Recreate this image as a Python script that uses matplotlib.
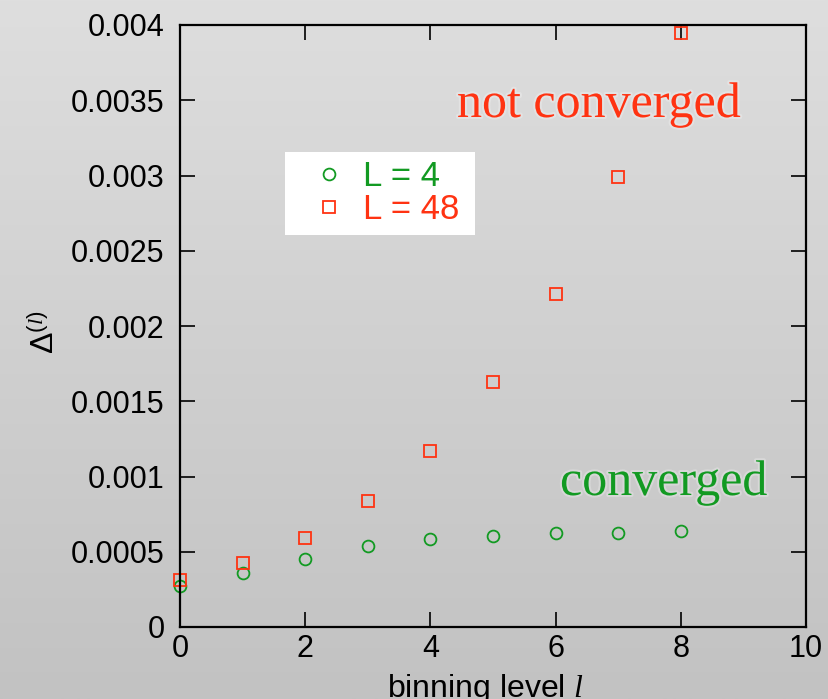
import numpy as np
import matplotlib
matplotlib.use("Agg")
import matplotlib.pyplot as plt
import matplotlib.patheffects as pe
from matplotlib.patches import Rectangle

# binning levels and error estimates
levels = [0, 1, 2, 3, 4, 5, 6, 7, 8]
delta_L4 = [0.000272, 0.000359, 0.000452, 0.000538, 0.000585, 0.000605, 0.000625, 0.000625, 0.000638]
delta_L48 = [0.00031, 0.000425, 0.00059, 0.000837, 0.00117, 0.00163, 0.00221, 0.00299, 0.00395]
y_ticks = [0, 0.0005, 0.001, 0.0015, 0.002, 0.0025, 0.003, 0.0035, 0.004]
y_tick_labels = ["0", "0.0005", "0.001", "0.0015", "0.002", "0.0025", "0.003", "0.0035", "0.004"]
x_ticks = [0, 2, 4, 6, 8, 10]

GREEN = "#129a22"
RED = "#ff3312"

plt.rcParams["font.family"] = ["Liberation Sans", "DejaVu Sans"]
plt.rcParams["mathtext.fontset"] = "custom"
plt.rcParams["mathtext.rm"] = "Liberation Sans"
plt.rcParams["mathtext.it"] = "Liberation Serif:italic"

fig = plt.figure(figsize=(8.29, 6.99), dpi=100)

# grey slide background, lighter at the top
bg = fig.add_axes([0, 0, 1, 1], zorder=-10)
shade = np.linspace(222, 194, 256) / 255.0
img = np.repeat(shade.reshape(-1, 1, 1), 3, axis=2)
bg.imshow(img, aspect="auto", extent=[0, 1, 0, 1], origin="upper")
bg.axis("off")

ax = fig.add_axes([180 / 829, 1 - 627 / 699, 626 / 829, 602 / 699])
ax.patch.set_alpha(0)

ax.plot(levels, delta_L4, "o", ms=8.5, mfc="none", mec=GREEN, mew=1.3,
        label="L = 4", clip_on=False)
ax.plot(levels, delta_L48, "s", ms=8.5, mfc="none", mec=RED, mew=1.3,
        label="L = 48", clip_on=False)

ax.set_xlim(0, 10)
ax.set_ylim(0, 0.004)
ax.set_xticks(x_ticks)
ax.set_yticks(y_ticks)
ax.set_yticklabels(y_tick_labels)
ax.tick_params(direction="in", length=11, width=1.2, labelsize=22, pad=11,
               top=True, right=True)
ax.tick_params(axis="x", pad=5)
for s in ax.spines.values():
    s.set_linewidth(1.6)

ax.set_xlabel(r"binning level $\mathit{l}$", fontsize=23)
ax.xaxis.set_label_coords(0.488, (627 - 697) / 602)
ax.xaxis.label.set_verticalalignment("baseline")
ax.set_ylabel(r"$\Delta^{(\mathit{l})}$", fontsize=23)
ax.yaxis.set_label_coords(-0.214, 0.49)
ax.yaxis.label.set_verticalalignment("center")

# white box behind the legend
ax.add_patch(Rectangle(((285 - 180) / 626, (627 - 235) / 602), 190 / 626, 83 / 602,
                       transform=ax.transAxes, facecolor="white", edgecolor="none",
                       zorder=4))
leg = ax.legend(loc="upper left", bbox_to_anchor=(0.179, 0.798), fontsize=25,
                frameon=False, handletextpad=0.35, borderpad=0.4,
                labelspacing=0.0, handlelength=1.3, borderaxespad=0)
leg.set_zorder(5)
for txt, c in zip(leg.get_texts(), [GREEN, RED]):
    txt.set_color(c)

glow = [pe.withStroke(linewidth=3, foreground="white", alpha=0.25)]
ax.text((457 - 180) / 626, (627 - 117) / 602, "not converged", transform=ax.transAxes,
        color=RED, fontsize=36, family="Liberation Serif", va="baseline",
        path_effects=glow)
ax.text((560 - 180) / 626, (627 - 495) / 602, "converged", transform=ax.transAxes,
        color=GREEN, fontsize=36, family="Liberation Serif", va="baseline",
        path_effects=glow)

fig.savefig("out.png", dpi=100)
